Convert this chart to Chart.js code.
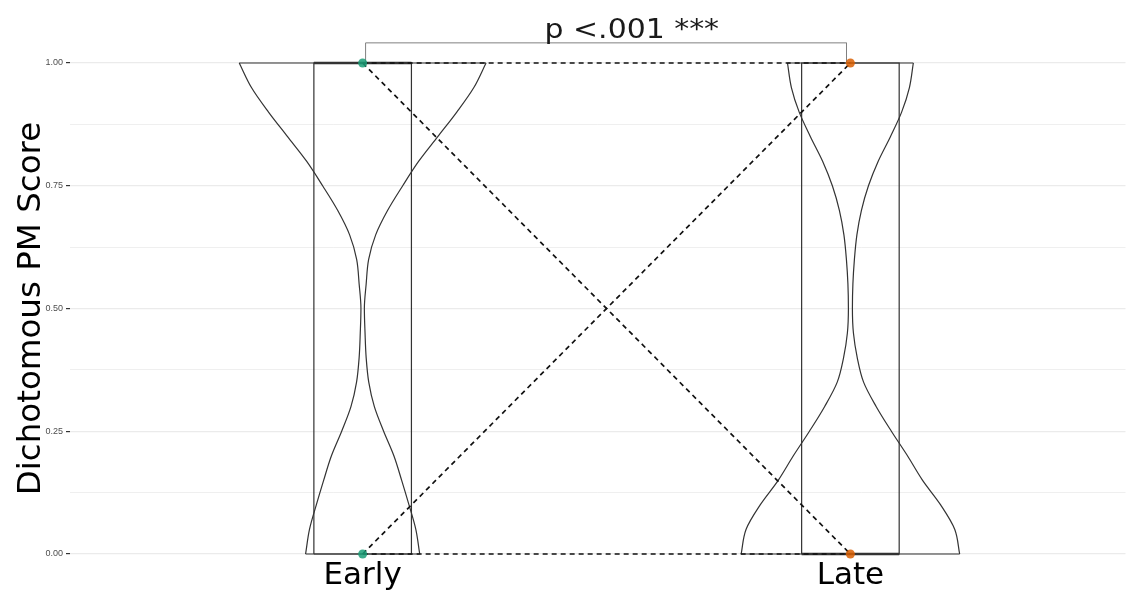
<!DOCTYPE html>
<html><head><meta charset="utf-8">
<script src="https://cdn.jsdelivr.net/npm/chart.js@4.4.1/dist/chart.umd.min.js"></script>
<style>html,body{margin:0;padding:0;background:#fff;overflow:hidden}#wrap{width:1130px;height:600px;position:relative}</style>
</head><body><div id="wrap"><canvas id="c" width="1130" height="600"></canvas></div>
<script>
// ---- data ----
const categories = ['Early', 'Late'];
const categoryPos = [1, 2];
const densityLevels = [0,0.05,0.10,0.15,0.20,0.25,0.30,0.35,0.40,0.45,0.50,0.55,0.60,0.65,0.70,0.75,0.80,0.85,0.90,0.95,1.00];
const violinEarly = [0.117,0.109,0.095,0.080,0.064,0.043,0.024,0.0125,0.0072,0.0049,0.0035,0.0072,0.0123,0.0267,0.0513,0.0821,0.115,0.154,0.193,0.228,0.253];
const violinLate  = [0.224,0.214,0.185,0.148,0.117,0.084,0.053,0.027,0.014,0.0062,0.0041,0.0051,0.0082,0.0133,0.0226,0.037,0.057,0.082,0.105,0.121,0.129];
const quartile1 = [0, 0];
const quartile3 = [1, 1];
const medians = [1, 0];
const scoreValues = [0, 1];
const transitions = [[1, 1], [1, 0], [0, 1], [0, 0]]; // [early, late]
const yTickValues = [0, 0.125, 0.25, 0.375, 0.5, 0.625, 0.75, 0.875, 1];
const pLabel = 'p <.001 ***';
const bracketHeight = 1.041;
const pLabelStart = 1.373;

// ---- styles ----
const BOX_HALF = 0.1;
const EDGE = '#333333';
const pointColors = ['rgba(27,158,119,0.85)', 'rgba(217,95,2,0.85)'];

function line(data, extra) {
  return Object.assign({data, showLine: true, pointRadius: 0, pointHoverRadius: 0, borderColor: EDGE,
    borderWidth: 1.2, fill: false, clip: false, tension: 0}, extra || {});
}

const datasets = [];
categoryPos.forEach((p, i) => {
  datasets.push({data: scoreValues.map(v => ({x: p, y: v})), showLine: false, pointRadius: 4.5,
    pointBackgroundColor: pointColors[i], pointBorderWidth: 0, clip: false});
});
transitions.forEach(t => {
  datasets.push(line([{x: categoryPos[0], y: t[0]}, {x: categoryPos[1], y: t[1]}],
    {borderColor: '#111', borderWidth: 1.7, borderDash: [5, 4]}));
});
datasets.push(line([{x: categoryPos[0] + 0.006, y: 1}, {x: categoryPos[0] + 0.006, y: bracketHeight},
  {x: categoryPos[1] - 0.008, y: bracketHeight}, {x: categoryPos[1] - 0.008, y: 1}], {borderColor: '#808080', borderWidth: 1}));
categoryPos.forEach((p, i) => {
  datasets.push(line([{x: p - BOX_HALF, y: medians[i]}, {x: p + BOX_HALF, y: medians[i]}], {borderWidth: 2.4}));
  datasets.push(line([{x: p - BOX_HALF, y: quartile1[i]}, {x: p - BOX_HALF, y: quartile3[i]},
    {x: p + BOX_HALF, y: quartile3[i]}, {x: p + BOX_HALF, y: quartile1[i]}, {x: p - BOX_HALF, y: quartile1[i]}]));
});
[violinEarly, violinLate].forEach((hw, i) => {
  const p = categoryPos[i];
  const smooth = {indexAxis: 'y', cubicInterpolationMode: 'monotone'};
  datasets.push(line(densityLevels.map((v, k) => ({x: p - hw[k], y: v})), smooth));
  datasets.push(line(densityLevels.map((v, k) => ({x: p + hw[k], y: v})), smooth));
  const n = densityLevels.length - 1;
  datasets.push(line([{x: p - hw[0], y: densityLevels[0]}, {x: p + hw[0], y: densityLevels[0]}]));
  datasets.push(line([{x: p - hw[n], y: densityLevels[n]}, {x: p + hw[n], y: densityLevels[n]}]));
});

const annot = {
  id: 'annot',
  afterDatasetsDraw(chart) {
    const {ctx, scales: {x, y}} = chart;
    ctx.save();
    ctx.fillStyle = '#1a1a1a';
    ctx.font = '26px "DejaVu Sans"';
    ctx.textAlign = 'left';
    ctx.textBaseline = 'alphabetic';
    ctx.translate(x.getPixelForValue(pLabelStart), y.getPixelForValue(bracketHeight) - 5);
    ctx.scale(1.15, 1);
    ctx.fillText(pLabel, 0, 0);
    ctx.restore();
  }
};

new Chart(document.getElementById('c'), {
  type: 'line',
  data: {datasets},
  plugins: [annot],
  options: {
    responsive: false, animation: false, devicePixelRatio: 1,
    layout: {padding: {top: 63, right: 0, bottom: 0, left: 0}},
    plugins: {legend: {display: false}, tooltip: {enabled: false}},
    scales: {
      x: {
        type: 'linear', min: 0.4, max: 2.564,
        afterBuildTicks: s => { s.ticks = categoryPos.map(v => ({value: v})); },
        afterFit: s => { s.height = 46; },
        grid: {display: false, drawTicks: false},
        border: {display: false},
        ticks: {callback: (v) => categories[categoryPos.indexOf(v)], color: '#000',
          font: {family: 'DejaVu Sans', size: 31}, padding: 3, maxRotation: 0, autoSkip: false}
      },
      y: {
        type: 'linear', min: 0, max: 1,
        afterBuildTicks: s => { s.ticks = yTickValues.map(v => ({value: v})); },
        afterFit: s => { s.width = 70; },
        grid: {
          color: '#ebebeb',
          lineWidth: c => (c.tick && Math.abs(c.tick.value * 4 - Math.round(c.tick.value * 4)) < 1e-6) ? 1.2 : 0.8,
          tickColor: c => (c.tick && Math.abs(c.tick.value * 4 - Math.round(c.tick.value * 4)) < 1e-6) ? '#333' : 'rgba(0,0,0,0)',
          tickLength: 4, drawTicks: true
        },
        border: {display: false},
        ticks: {
          callback: v => (Math.abs(v * 4 - Math.round(v * 4)) < 1e-6) ? v.toFixed(2) : '',
          color: '#4d4d4d', font: {family: 'Liberation Sans', size: 9}, padding: 3, autoSkip: false
        },
        title: {display: true, text: 'Dichotomous PM Score', color: '#000',
          font: {family: 'DejaVu Sans', size: 32.5}, padding: {top: 12, bottom: 0}}
      }
    }
  }
});
</script></body></html>
